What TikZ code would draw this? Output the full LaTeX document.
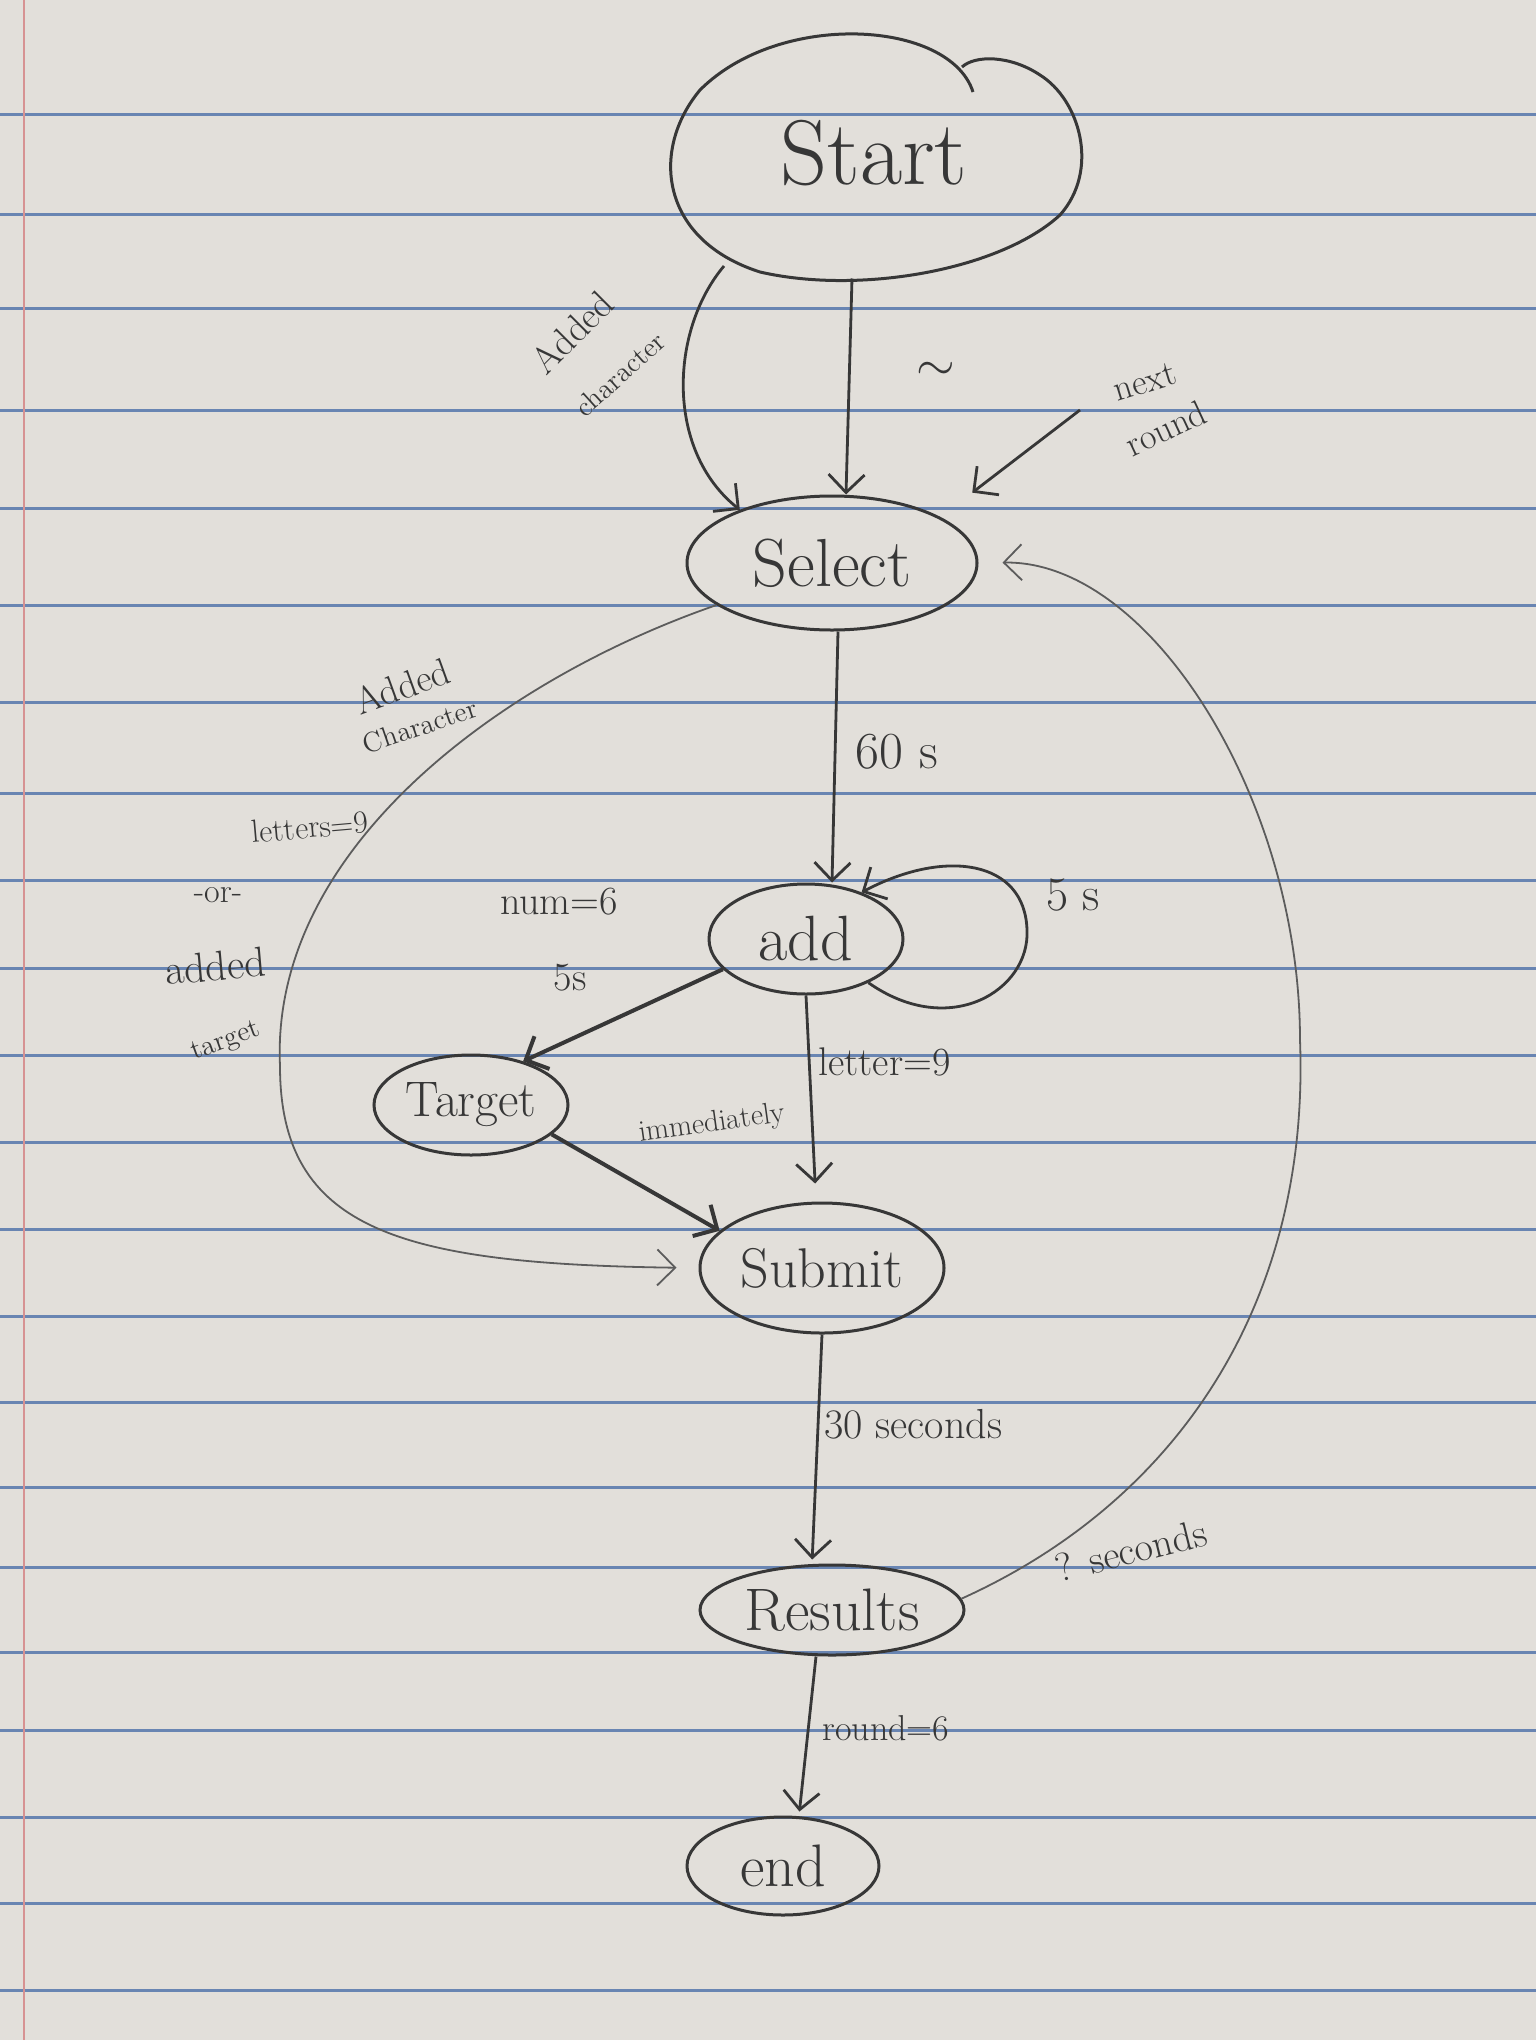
\documentclass[tikz,border=0pt]{standalone}
\usepackage{fontspec}
\usetikzlibrary{shapes.geometric,arrows.meta}
\definecolor{papercol}{RGB}{226,223,218}
\definecolor{rulecol}{RGB}{84,118,172}
\definecolor{margincol}{RGB}{214,146,146}
\definecolor{pencilcol}{RGB}{55,55,55}
\definecolor{pencilf}{RGB}{92,92,92}
\newcommand{\fs}[1]{\fontsize{#1}{1.2\dimexpr #1pt\relax}\selectfont}
\begin{document}
\begin{tikzpicture}[x=0.5pt,y=-0.5pt,
  state/.style={ellipse, draw=pencilcol, line width=1.5pt, inner sep=0pt, text=pencilcol},
  conn/.style={draw=pencilcol, line width=1.4pt, -{Straight Barb[length=9pt,width=18pt]}},
  thinconn/.style={conn, draw=pencilf, line width=0.9pt},
  boldconn/.style={conn, line width=2pt},
  lbl/.style={text=pencilcol, inner sep=0pt},
  ruleline/.style={draw=rulecol, line width=1.5pt, opacity=0.85}
]
% paper
\fill[papercol] (0,0) rectangle (1536,2040);
\useasboundingbox (0,0) rectangle (1536,2040);
\foreach \yy in {114,214,308,410,508,605,702,793,880,968,1055,1142,1229,1316,1402,1487,1567,1652,1730,1817,1903,1990}
  \draw[ruleline] (0,\yy) -- (1536,\yy);
\draw[margincol, line width=1.2pt] (24,0) -- (24,2040);

% nodes
\node[state, draw=none, minimum width=205pt, minimum height=124pt] (start) at (874,153) {\fs{46}Start};
\draw[pencilcol, line width=1.5pt] (973,92) .. controls (950,20) and (780,10) .. (700,90)
  .. controls (650,150) and (660,240) .. (760,272)
  .. controls (860,295) and (1000,270) .. (1060,215)
  .. controls (1100,170) and (1080,100) .. (1040,75)
  .. controls (1010,55) and (975,55) .. (962,67);
\coordinate (startsw) at (724,266);

\node[state, minimum width=145pt, minimum height=67pt] (select) at (832,563) {\fs{34}Select};
\node[state, minimum width=97pt, minimum height=55pt] (add) at (806,939) {\fs{32}add};
\node[state, minimum width=97pt, minimum height=50pt] (target) at (471,1105) {\fs{25}Target};
\node[state, minimum width=122pt, minimum height=65pt] (submit) at (822,1268) {\fs{28}Submit};
\node[state, minimum width=132pt, minimum height=45pt] (results) at (832,1610) {\fs{30}Results};
\node[state, minimum width=96pt, minimum height=49pt] (end) at (783,1866) {\fs{30}end};

% Start -> Select
\draw[conn] ([xshift=-11pt]start.south) -- ([xshift=7pt]select.north);
\draw[conn] (startsw) .. controls (670,330) and (665,450) .. (select.150);
\node[lbl, rotate=45] (lAddTop) at (572,332) {\fs{19}Added};
\node[lbl, rotate=42] (lcharTop) at (620,374) {\fs{14}character};
\node[lbl] (ltilde) at (936,371) {\fs{34}$\sim$};
\coordinate (nr) at (1080,410);
\draw[conn, shorten >=20pt] (nr) -- (select.23);
\node[lbl, rotate=17] (lnext) at (1145,382) {\fs{18}next};
\node[lbl, rotate=25] (lround2) at (1166,428) {\fs{18}round};

% Select -> add
\draw[conn] ([xshift=3pt]select.south) -- ([xshift=13pt]add.north);
\node[lbl] (l60) at (897,752) {\fs{26}60 s};

% add self loop
\draw[conn] (add.-35) .. controls (950,1040) and (1030,990) .. (1027,930)
  .. controls (1025,860) and (945,848) .. (add.40);
\node[lbl] (l5) at (1073,895) {\fs{24}5 s};

% add -> Target
\draw[boldconn] (add.200) -- (target.40);
\node[lbl] (lnum) at (559,902) {\fs{20}num=6};
\node[lbl] (lnum5) at (570,978) {\fs{20}5s};

% add -> Submit
\draw[conn, shorten >=9pt] (add.south) -- ([xshift=-3pt]submit.north);
\node[lbl, anchor=west] (lletter) at (818,1062) {\fs{20}letter=9};

% Target -> Submit
\draw[boldconn] (target.-20) -- (submit.160);
\node[lbl, rotate=8] (limm) at (712,1124) {\fs{15}immediately};

% Select -> Submit (big left curve)
\draw[thinconn, shorten >=11pt] (select.200) .. controls (500,680) and (270,850) .. (280,1066)
  .. controls (280,1230) and (400,1264) .. (submit.180);
\node[lbl, rotate=20] (lAddLeft) at (402,686) {\fs{19}Added};
\node[lbl, rotate=19] (lCharLeft) at (420,726) {\fs{14}Character};
\node[lbl, rotate=5] (lletters) at (310,827) {\fs{16}letters=9};
\node[lbl] (lor) at (218,895) {\fs{17}-or-};
\node[lbl, rotate=5] (ladded) at (215,966) {\fs{21}added};
\node[lbl, rotate=20] (ltarget) at (226,1042) {\fs{14}target};

% Submit -> Results
\draw[conn, shorten >=2pt] (submit.south) -- ([xshift=-10pt]results.north);
\node[lbl, anchor=west] (l30) at (824,1424) {\fs{21}30 seconds};

% Results -> Select (big right curve)
\draw[thinconn, shorten >=12pt] (results.5) .. controls (1180,1500) and (1310,1300) .. (1300,1040)
  .. controls (1300,800) and (1150,560) .. (select.east);
\node[lbl, rotate=14] (lq) at (1131,1550) {\fs{20}? seconds};

% Results -> end
\draw[conn, shorten >=2pt] ([xshift=-8pt]results.south) -- ([xshift=8pt]end.north);
\node[lbl, anchor=west] (lround) at (822,1728) {\fs{18}round=6};
\end{tikzpicture}
\end{document}
